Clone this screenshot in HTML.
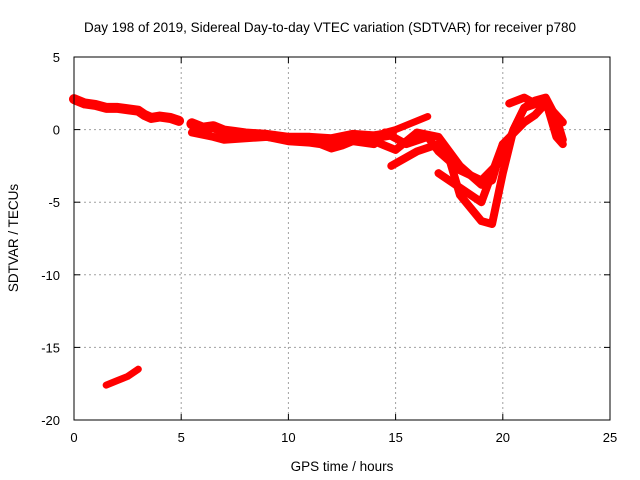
<!DOCTYPE html>
<html><head><meta charset="utf-8"><style>
body{margin:0;background:#fff;}
svg{display:block;font-family:"Liberation Sans",sans-serif;}
</style></head><body>
<svg id="chart" width="640" height="480" viewBox="0 0 640 480">
<text x="330" y="32" font-size="13.5" text-anchor="middle">Day 198 of 2019, Sidereal Day-to-day VTEC variation (SDTVAR) for receiver p780</text>
<text x="342" y="471" font-size="13.5" text-anchor="middle">GPS time / hours</text>
<text transform="translate(18,238) rotate(-90)" font-size="13.5" text-anchor="middle">SDTVAR / TECUs</text>
<g id="grid"></g><g id="series"></g><g id="axes"></g>
</svg>
<script>
const xTicks=[0,5,10,15,20,25];
const yTicks=[5,0,-5,-10,-15,-20];
const trackA_t=[0,0.5,1,1.5,2,3,3.3,3.6,4,4.5,4.9];
const trackA_v=[2.1,1.8,1.7,1.5,1.5,1.3,1.0,0.8,0.9,0.8,0.6];
const trackA2_t=[5.5,6,6.5,7,7.5,8,9,10,11,12,13,14,14.8];
const trackA2_v=[0.4,0.1,0.2,-0.1,-0.2,-0.3,-0.4,-0.6,-0.6,-0.7,-0.4,-0.5,-0.3];
const trackA3_t=[5.5,6.5,7,8,9,10,11,11.5,12,12.5,13,14];
const trackA3_v=[-0.2,-0.5,-0.7,-0.6,-0.5,-0.8,-0.9,-1.0,-1.3,-1.1,-0.8,-1.0];
const trackA4_t=[14.5,15,15.5,16,16.5];
const trackA4_v=[-0.2,0.0,0.3,0.6,0.9];
const trackB_t=[13,14,15,16,17,18,19,19.5,20,21,21.5,22,22.5,22.8];
const trackB_v=[-0.5,-0.8,-1.4,-0.2,-0.5,-2.5,-3.8,-3.5,-1,0.5,1.0,1.8,1.0,0.5];
const trackC_t=[14.5,15.5,16.5,17,18,19,20,20.5,21,21.5,22,22.5,22.8];
const trackC_v=[-0.2,-1,-0.5,-1.5,-2.8,-3.5,-2,0,1.5,2,2.2,0.8,-0.7];
const trackD_t=[14.8,16,17,17.5,18,19,19.5,20,20.5,21,22,22.5,22.8];
const trackD_v=[-2.5,-1.5,-1,-2,-4.5,-6.3,-6.5,-3,0,1.5,2,-0.5,-1];
const trackE_t=[17,18,19,20];
const trackE_v=[-3,-4,-5,-1];
const trackF_t=[20.3,21,21.5];
const trackF_v=[1.8,2.2,1.8];
const trackG_t=[1.5,2,2.5,3];
const trackG_v=[-17.6,-17.3,-17,-16.5];
const NS="http://www.w3.org/2000/svg";
const X0=74,X1=610,Y0=57,Y1=420;
function sx(t){return X0+(t-0)/(25-0)*(X1-X0);}
function sy(v){return Y0+(5-v)/(5-(-20))*(Y1-Y0);}
function mk(tag,attrs,parent){const e=document.createElementNS(NS,tag);for(const k in attrs)e.setAttribute(k,attrs[k]);parent.appendChild(e);return e;}
const grid=document.getElementById('grid'),axes=document.getElementById('axes'),ser=document.getElementById('series');
xTicks.forEach(t=>{
 if(t>0&&t<25){const l=mk('line',{x1:sx(t),x2:sx(t),y1:Y0,y2:Y1,stroke:'#a0a0a0','stroke-dasharray':'2,3'},grid);
 
 }
 mk('line',{x1:sx(t),x2:sx(t),y1:Y1,y2:Y1-6,stroke:'#000'},axes);
 mk('line',{x1:sx(t),x2:sx(t),y1:Y0,y2:Y0+6,stroke:'#000'},axes);
 const tx=mk('text',{x:sx(t),y:Y1+22,'font-size':13,'text-anchor':'middle'},axes);
 tx.textContent=t;
 
 
});
yTicks.forEach(v=>{
 if(v<5&&v>-20){const l=mk('line',{x1:X0,x2:X1,y1:sy(v),y2:sy(v),stroke:'#a0a0a0','stroke-dasharray':'2,3'},grid);
 
 }
 mk('line',{x1:X0,x2:X0+6,y1:sy(v),y2:sy(v),stroke:'#000'},axes);
 mk('line',{x1:X1,x2:X1-6,y1:sy(v),y2:sy(v),stroke:'#000'},axes);
 const tx=mk('text',{x:X0-14,y:sy(v)+5,'font-size':13,'text-anchor':'end'},axes);
 tx.textContent=v;
 
 
});
const tracks=[[trackA_t,trackA_v,10],[trackA2_t,trackA2_v,11],[trackA3_t,trackA3_v,8],[trackA4_t,trackA4_v,7],[trackB_t,trackB_v,8],[trackC_t,trackC_v,8],[trackD_t,trackD_v,8],[trackE_t,trackE_v,8],[trackF_t,trackF_v,8],[trackG_t,trackG_v,7]];
tracks.forEach(([ts,vs,w])=>{
 const pts=ts.map((t,i)=>sx(t)+','+sy(vs[i])).join(' ');
 const p=mk('polyline',{points:pts,fill:'none',stroke:'#ff0000','stroke-width':w,'stroke-linejoin':'round','stroke-linecap':'round'},ser);
 
 
});
const frame=mk('rect',{x:X0,y:Y0,width:X1-X0,height:Y1-Y0,fill:'none',stroke:'#000'},axes);


</script>
</body></html>
